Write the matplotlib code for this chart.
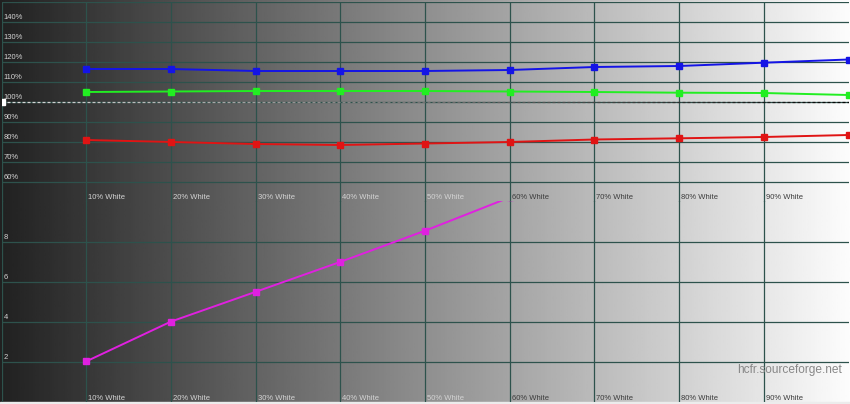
import numpy as np
import matplotlib
matplotlib.use("Agg")
import matplotlib.pyplot as plt
from matplotlib.collections import LineCollection
from matplotlib.patches import Rectangle

plt.rcParams['font.family'] = ['Liberation Sans', 'DejaVu Sans']

# data
levels = [10, 20, 30, 40, 50, 60, 70, 80, 90, 100]
red = [80.75, 79.75, 78.75, 78.25, 79.0, 79.75, 81.0, 81.6, 82.25, 83.25]
green = [104.75, 105.0, 105.25, 105.25, 105.25, 105.0, 104.75, 104.4, 104.25, 103.25]
blue = [116.25, 116.25, 115.25, 115.25, 115.25, 115.75, 117.25, 117.75, 119.4, 121.0]
de_levels = [10, 20, 30, 40, 50, 60]
delta_e = [2.04, 4.02, 5.5, 6.99, 8.54, 10.2]
x_labels = ["10% White", "20% White", "30% White", "40% White", "50% White",
            "60% White", "70% White", "80% White", "90% White"]
pct_ticks = [60, 70, 80, 90, 100, 110, 120, 130, 140]
de_ticks = [2, 4, 6, 8]

W, H = 850, 404
grid_col = '#2d524c'
g0, g1 = 0.13, 0.99


def bg_gray(xv):
    return g0 + (g1 - g0) * xv / 100.0


fig = plt.figure(figsize=(W / 100, H / 100), dpi=100)

# background gradient
bg = fig.add_axes([0, 0, 1, 1], zorder=-10)
grad = np.linspace(g0, g1, 400).reshape(1, -1)
bg.imshow(grad, cmap='gray', vmin=0, vmax=1, aspect='auto', extent=[0, 1, 0, 1])
bg.add_patch(Rectangle((0, 0), 1, 1.6 / H, color='#ececec', zorder=5))
bg.set_xlim(0, 1)
bg.set_ylim(0, 1)
bg.axis('off')

left = 1.5 / W
width = 847 / W
ax1 = fig.add_axes([left, 202.5 / H, width, 200 / H])
ax2 = fig.add_axes([left, 1.6 / H, width, 201 / H])

for ax in (ax1, ax2):
    ax.set_facecolor('none')
    ax.set_xlim(0, 100)
    for s in ax.spines.values():
        s.set_visible(False)
    ax.set_xticks([])
    ax.set_yticks([])
    for xv in range(0, 100, 10):
        ax.axvline(xv, color=grid_col, lw=0.9, zorder=1)

# top panel: RGB levels
ax1.set_ylim(50, 150)
for yv in pct_ticks + [150]:
    ax1.axhline(yv, color=grid_col, lw=0.9, zorder=1)
for yv in pct_ticks:
    ax1.annotate(f"{yv}%", xy=(0, yv), xytext=(1.5, 0.6), textcoords='offset points',
                 fontsize=5.5, color='#d4d4d4', va='bottom', ha='left')

# dashed 100% reference, drawn inverse of the background
seg_w = 5 * 100 / 847
xs = np.arange(0, 100, seg_w)
segs = [[(x, 100), (x + seg_w * 0.6, 100)] for x in xs]
cols = [(1 - bg_gray(x),) * 3 for x in xs]
ax1.add_collection(LineCollection(segs, colors=cols, lw=0.9, zorder=2))
ax1.plot([0], [100], marker='s', ms=5, color='white', zorder=3)

ax1.plot(levels, blue, color='#1414e6', lw=1.4, marker='s', ms=4.5, zorder=4)
ax1.plot(levels, green, color='#22ee22', lw=1.4, marker='s', ms=4.5, zorder=4)
ax1.plot(levels, red, color='#e01414', lw=1.4, marker='s', ms=4.5, zorder=4)

# bottom panel: delta E
ax2.set_ylim(0, 10)
for yv in de_ticks:
    ax2.axhline(yv, color=grid_col, lw=0.9, zorder=1)
for yv in de_ticks:
    ax2.annotate(f"{yv}", xy=(0, yv), xytext=(1.5, 0.6), textcoords='offset points',
                 fontsize=5.5, color='#d4d4d4', va='bottom', ha='left')
ax2.plot(de_levels, delta_e, color='#e020e0', lw=1.4, marker='s', ms=4.5, zorder=4)

for ax in (ax1, ax2):
    for lv, lab in zip(levels, x_labels):
        c = '#d4d4d4' if lv <= 50 else '#3c3c3c'
        ax.annotate(lab, xy=(lv, ax.get_ylim()[0]), xytext=(1.5, 0.4),
                    textcoords='offset points', fontsize=5.5, color=c,
                    va='bottom', ha='left')

fig.text(842 / W, 1 - 370 / H, "hcfr.sourceforge.net", fontsize=8.6,
         color='#888888', ha='right', va='center')

fig.savefig("out.png", dpi=100)
